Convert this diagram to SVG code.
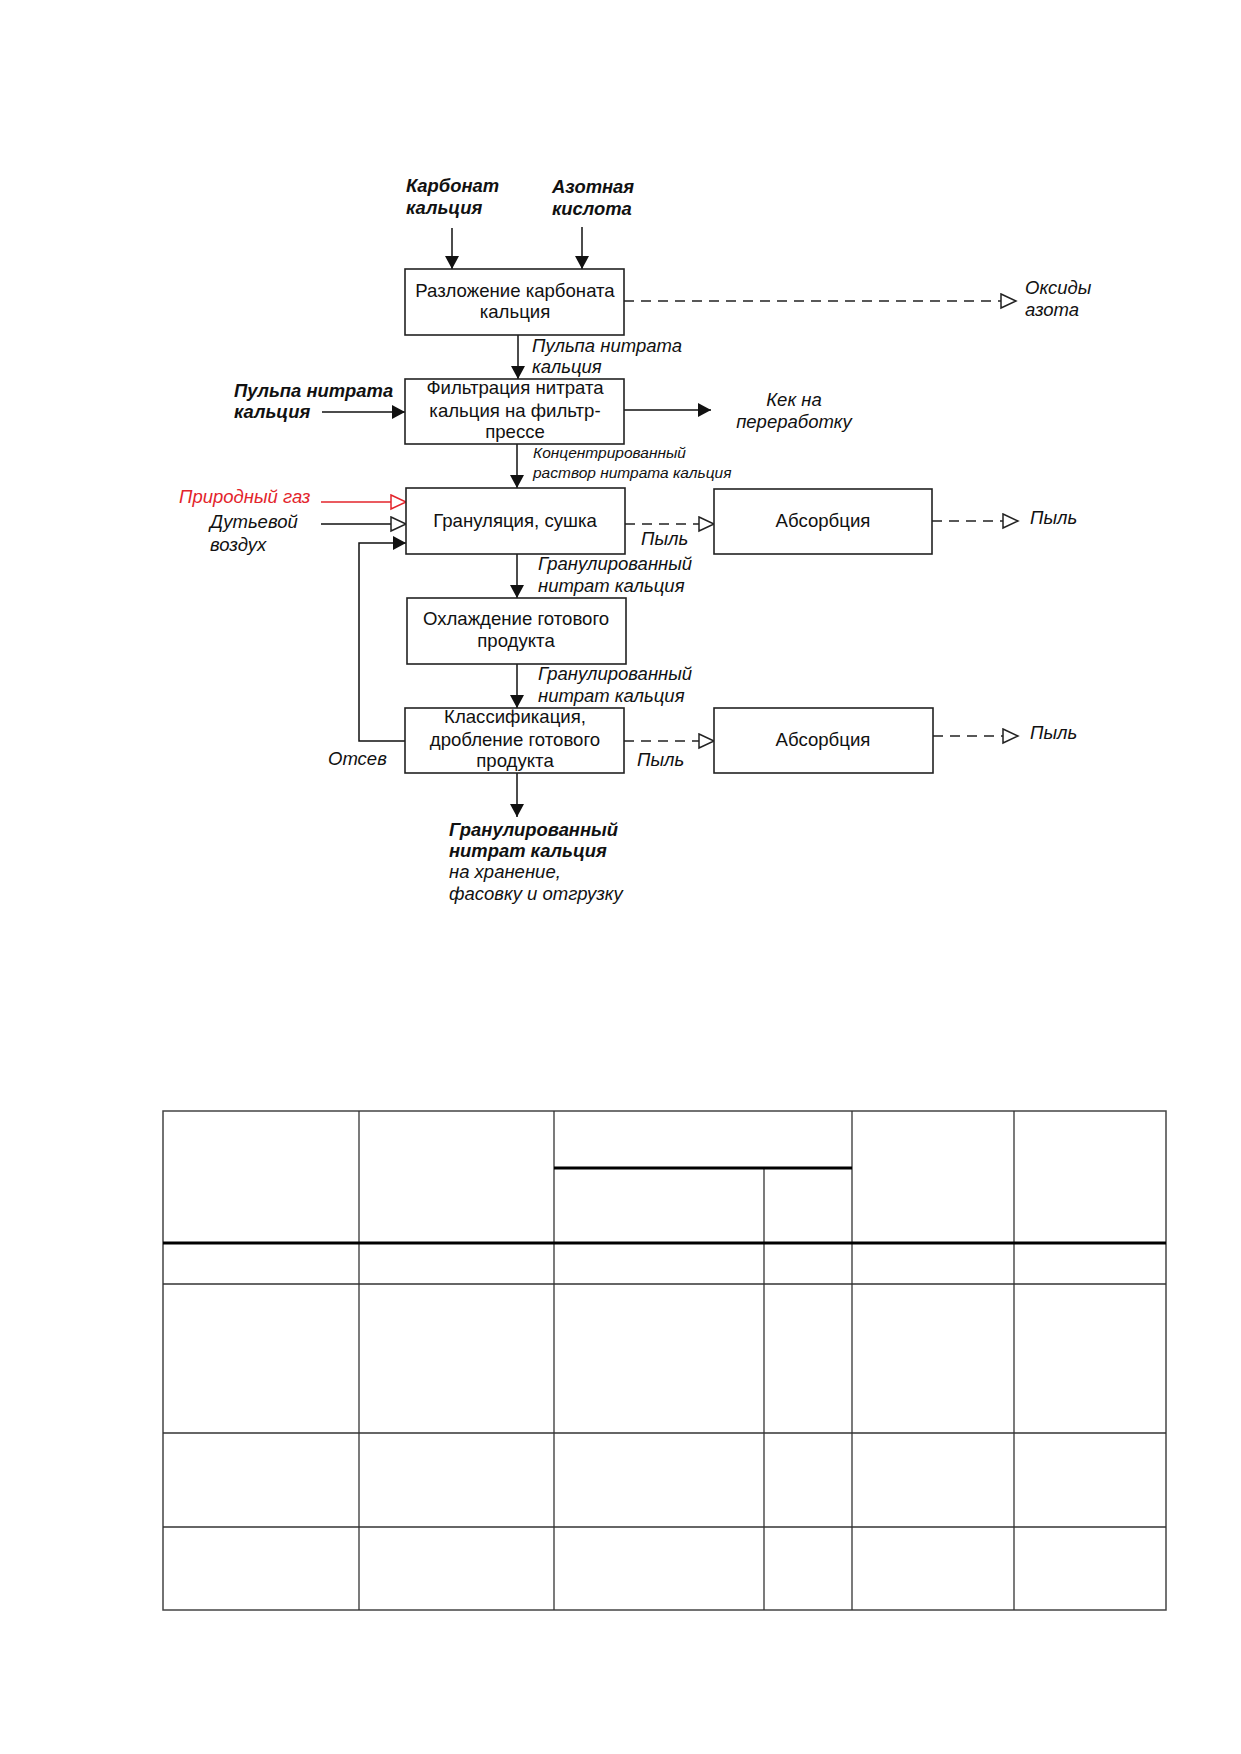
<svg xmlns="http://www.w3.org/2000/svg" width="1241" height="1754" viewBox="0 0 1241 1754">
<style>
.box{fill:#fff;stroke:#222;stroke-width:1.6}
.bt{font-family:"Liberation Sans",Arial,sans-serif;font-size:18.6px;fill:#111;text-anchor:middle}
.it{font-family:"Liberation Sans",Arial,sans-serif;font-size:18.5px;font-style:italic;fill:#111}
.bi{font-family:"Liberation Sans",Arial,sans-serif;font-size:18.4px;font-style:italic;font-weight:bold;fill:#111}
.sm{font-family:"Liberation Sans",Arial,sans-serif;font-size:15.5px;font-style:italic;fill:#111}
.red{fill:#e3242b}
.ln{fill:none;stroke:#111;stroke-width:1.5}
.dl{fill:none;stroke:#222;stroke-width:1.5;stroke-dasharray:10 7}
.rl{fill:none;stroke:#e3242b;stroke-width:1.5}
.tl{stroke:#333;stroke-width:1.3}
.tk{stroke:#000;stroke-width:3}
</style>
<defs>
<marker id="fa" markerUnits="userSpaceOnUse" markerWidth="14" markerHeight="14" refX="13" refY="7" orient="auto"><path d="M0,0 L13,7 L0,14 z" fill="#111"/></marker>
<marker id="oa" markerUnits="userSpaceOnUse" markerWidth="18" markerHeight="18" refX="16" refY="8" orient="auto"><path d="M1,1 L16,8 L1,15 z" fill="#fff" stroke="#222" stroke-width="1.5"/></marker>
<marker id="ra" markerUnits="userSpaceOnUse" markerWidth="18" markerHeight="18" refX="16" refY="8" orient="auto"><path d="M1,1 L16,8 L1,15 z" fill="#fff" stroke="#e3242b" stroke-width="1.5"/></marker>
</defs>
<rect width="1241" height="1754" fill="#fff"/>

<g id="connectors">
<line class="ln" x1="452" y1="228" x2="452" y2="269" marker-end="url(#fa)"/>
<line class="ln" x1="582" y1="227" x2="582" y2="269" marker-end="url(#fa)"/>
<line class="dl" x1="624" y1="301" x2="1016" y2="301" marker-end="url(#oa)"/>
<line class="ln" x1="518" y1="335" x2="518" y2="379" marker-end="url(#fa)"/>
<line class="ln" x1="322" y1="412" x2="405" y2="412" marker-end="url(#fa)"/>
<line class="ln" x1="624" y1="410" x2="711" y2="410" marker-end="url(#fa)"/>
<line class="ln" x1="517" y1="444" x2="517" y2="488" marker-end="url(#fa)"/>
<line class="rl" x1="321" y1="502" x2="406" y2="502" marker-end="url(#ra)"/>
<line class="ln" x1="321" y1="524" x2="406" y2="524" marker-end="url(#oa)"/>
<path class="ln" d="M405,741 H359 V543 H406" marker-end="url(#fa)"/>
<line class="dl" x1="625" y1="524" x2="714" y2="524" marker-end="url(#oa)"/>
<line class="dl" x1="932" y1="521" x2="1018" y2="521" marker-end="url(#oa)"/>
<line class="ln" x1="517" y1="554" x2="517" y2="598" marker-end="url(#fa)"/>
<line class="ln" x1="517" y1="664" x2="517" y2="708" marker-end="url(#fa)"/>
<line class="dl" x1="624" y1="741" x2="714" y2="741" marker-end="url(#oa)"/>
<line class="dl" x1="933" y1="736" x2="1018" y2="736" marker-end="url(#oa)"/>
<line class="ln" x1="517" y1="773" x2="517" y2="817" marker-end="url(#fa)"/>
</g>

<g id="labels">
<text class="bi" x="406" y="192">Карбонат</text>
<text class="bi" x="406" y="214">кальция</text>
<text class="bi" x="552" y="193">Азотная</text>
<text class="bi" x="552" y="215">кислота</text>
<text class="it" x="1025" y="294">Оксиды</text>
<text class="it" x="1025" y="316">азота</text>
<text class="it" x="532" y="352">Пульпа нитрата</text>
<text class="it" x="532" y="373">кальция</text>
<text class="bi" x="234" y="397">Пульпа нитрата</text>
<text class="bi" x="234" y="418">кальция</text>
<text class="it" x="794" y="406" text-anchor="middle">Кек на</text>
<text class="it" x="794" y="428" text-anchor="middle">переработку</text>
<text class="sm" x="533" y="458">Концентрированный</text>
<text class="sm" x="533" y="478">раствор нитрата кальция</text>
<text class="it red" x="179" y="503">Природный газ</text>
<text class="it" x="210" y="528">Дутьевой</text>
<text class="it" x="210" y="551">воздух</text>
<text class="it" x="641" y="545">Пыль</text>
<text class="it" x="1030" y="524">Пыль</text>
<text class="it" x="538" y="570">Гранулированный</text>
<text class="it" x="538" y="592">нитрат кальция</text>
<text class="it" x="538" y="680">Гранулированный</text>
<text class="it" x="538" y="702">нитрат кальция</text>
<text class="it" x="328" y="765">Отсев</text>
<text class="it" x="637" y="766">Пыль</text>
<text class="it" x="1030" y="739">Пыль</text>
<text class="bi" x="449" y="836">Гранулированный</text>
<text class="bi" x="449" y="857">нитрат кальция</text>
<text class="it" x="449" y="878">на хранение,</text>
<text class="it" x="449" y="900">фасовку и отгрузку</text>
</g>

<g id="n1"><rect class="box" x="405" y="269" width="219" height="66"/>
<text class="bt" x="515" y="297">Разложение карбоната</text><text class="bt" x="515" y="318">кальция</text></g>
<g id="n2"><rect class="box" x="405" y="379" width="219" height="65"/>
<text class="bt" x="515" y="394">Фильтрация нитрата</text><text class="bt" x="515" y="417">кальция на фильтр-</text><text class="bt" x="515" y="438">прессе</text></g>
<g id="n3"><rect class="box" x="406" y="488" width="219" height="66"/>
<text class="bt" x="515" y="527">Грануляция, сушка</text></g>
<g id="n4"><rect class="box" x="714" y="489" width="218" height="65"/>
<text class="bt" x="823" y="527">Абсорбция</text></g>
<g id="n5"><rect class="box" x="407" y="598" width="219" height="66"/>
<text class="bt" x="516" y="625">Охлаждение готового</text><text class="bt" x="516" y="647">продукта</text></g>
<g id="n6"><rect class="box" x="405" y="708" width="219" height="65"/>
<text class="bt" x="515" y="723">Классификация,</text><text class="bt" x="515" y="746">дробление готового</text><text class="bt" x="515" y="767">продукта</text></g>
<g id="n7"><rect class="box" x="714" y="708" width="219" height="65"/>
<text class="bt" x="823" y="746">Абсорбция</text></g>

<g id="table">
<rect x="163" y="1111" width="1003" height="499" fill="none" stroke="#444" stroke-width="1.5"/>
<line class="tl" x1="359" y1="1111" x2="359" y2="1610"/>
<line class="tl" x1="554" y1="1111" x2="554" y2="1610"/>
<line class="tl" x1="764" y1="1168" x2="764" y2="1610"/>
<line class="tl" x1="852" y1="1111" x2="852" y2="1610"/>
<line class="tl" x1="1014" y1="1111" x2="1014" y2="1610"/>
<line class="tk" x1="554" y1="1168" x2="852" y2="1168"/>
<line class="tk" x1="163" y1="1243" x2="1166" y2="1243"/>
<line class="tl" x1="163" y1="1284" x2="1166" y2="1284"/>
<line class="tl" x1="163" y1="1433" x2="1166" y2="1433" stroke="#555" stroke-width="2"/>
<line class="tl" x1="163" y1="1527" x2="1166" y2="1527" stroke="#666" stroke-width="2.5"/>
</g>
</svg>
